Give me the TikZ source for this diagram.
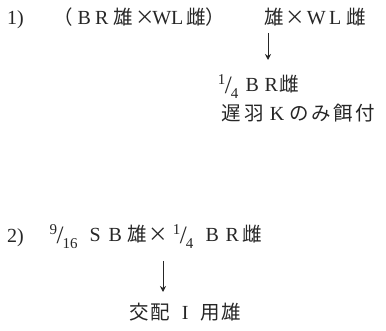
\documentclass[tikz,border=0pt]{standalone}
\usepackage{fontspec}
\setmainfont{Liberation Serif}
\newfontfamily\cjk{Noto Sans CJK JP}
\usetikzlibrary{arrows.meta}
\newcommand\gl[2]{\makebox[0pt]{#1}\hspace{#2pt}}
\newcommand\kj[1]{{\cjk\fontsize{19.5}{19.5}\selectfont #1}}
\newcommand\latn[1]{{\fontsize{20}{20}\selectfont #1}}
\newcommand\frc[2]{{\raisebox{7pt}{\fontsize{15}{15}\selectfont #1}\kern-0.5pt\raisebox{-2pt}{\fontsize{25}{25}\selectfont /}\kern-1pt\raisebox{-7pt}{\fontsize{15}{15}\selectfont #2}}}
\tikzset{
  txt/.style={anchor=base west, inner sep=0pt, text=black!85},
  arr/.style={-{Stealth[length=6pt,width=6pt,inset=2pt]}, line width=0.8pt, black!85}
}
\begin{document}
\begin{tikzpicture}[x=1pt,y=-1pt]
\useasboundingbox (0,0) rectangle (386,331);
% line 1
\node[txt] (n1) at (7,25) {\latn{1)}};
\node[txt] (l1) at (63.5,24.5) {\gl{\kj{（}}{20.5}\gl{\latn{B}}{17.5}\gl{\latn{R}}{22}\gl{\kj{雄}}{21.5}\gl{\kj{×}}{16.5}\gl{\latn{W}}{15.5}\gl{\latn{L}}{19}\gl{\kj{雌}}{19.5}\gl{\kj{）}}{58.5}\gl{\kj{雄}}{21}\gl{\kj{×}}{21}\gl{\latn{W}}{19}\gl{\latn{L}}{21}\gl{\kj{雌}}{0}};
\coordinate (a1s) at (268,33);
\coordinate (a1e) at (268,60);
\draw[arr] (a1s) -- (a1e);
% line 3
\node[txt] (l3) at (228,92) {\gl{\frc{1}{4}}{24}\gl{\latn{B}}{19}\gl{\latn{R}}{18}\gl{\kj{雌}}{0}};
% line 4
\node[txt] (l4) at (231,121) {\gl{\kj{遅}}{23}\gl{\kj{羽}}{23}\gl{\latn{K}}{22}\gl{\kj{の}}{22}\gl{\kj{み}}{22}\gl{\kj{餌}}{22}\gl{\kj{付}}{0}};
% line 2
\node[txt] (n2) at (7,243) {\latn{2)}};
\node[txt] (l2) at (63.5,242) {\gl{\frc{9}{16}}{31.5}\gl{\latn{S}}{20}\gl{\latn{B}}{22.5}\gl{\kj{雄}}{21}\gl{\kj{×}}{24.5}\gl{\frc{1}{4}}{29}\gl{\latn{B}}{20}\gl{\latn{R}}{20}\gl{\kj{雌}}{0}};
\coordinate (a2s) at (163,261);
\coordinate (a2e) at (163,292);
\draw[arr] (a2s) -- (a2e);
% line 7
\node[txt] (l7) at (139,320) {\gl{\kj{交}}{21}\gl{\kj{配}}{25}\gl{\latn{I}}{25}\gl{\kj{用}}{21}\gl{\kj{雄}}{0}};
\end{tikzpicture}
\end{document}
